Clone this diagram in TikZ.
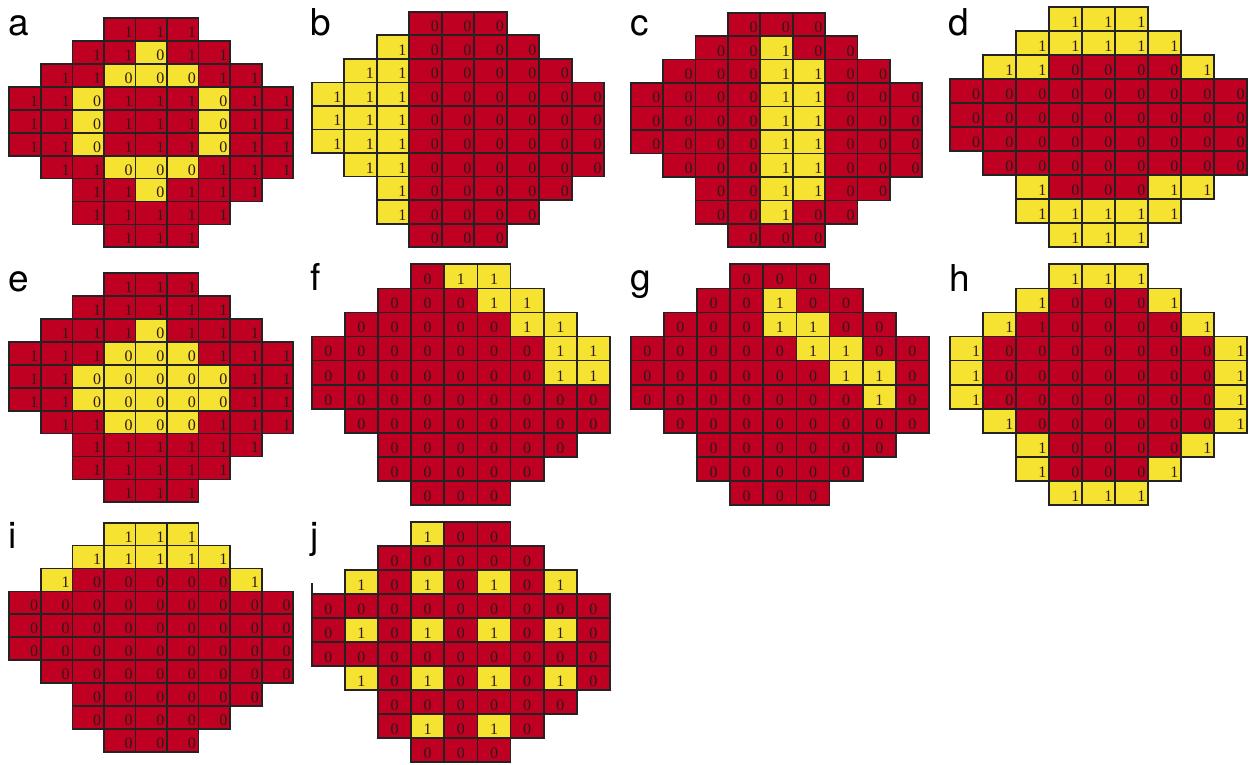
\documentclass[tikz,border=0pt]{standalone}
\usepackage{fontspec}
\setmainfont{Liberation Serif}
\newfontfamily\labfont{TeX Gyre Heros}
\definecolor{cellred}{RGB}{192,0,34}
\definecolor{cellyel}{RGB}{246,226,48}
\definecolor{gridline}{RGB}{38,34,34}
\definecolor{digitcol}{RGB}{45,25,25}
\tikzset{
  cellbox/.style={inner sep=0pt, outer sep=0pt, anchor=north west, rectangle},
  celledge/.style={draw=gridline, line width=1.7pt},
  digitnode/.style={inner sep=0pt, outer sep=0pt, font=\fontsize{16}{16}\selectfont, text=digitcol},
  panellabel/.style={inner sep=0pt, outer sep=0pt, anchor=base west, font=\labfont\fontsize{37}{37}\selectfont},
}
\newcommand\drawpanel[7]{%
  \pgfmathsetmacro\cw{(#4-#2)/9}%
  \pgfmathsetmacro\chh{(#5-#3)/10}%
  \foreach \row [count=\r from 0] in {#7} {%
    \ifcase\r \def\st{3}\or\def\st{2}\or\def\st{1}\or\def\st{0}\or\def\st{0}\or\def\st{0}\or\def\st{1}\or\def\st{2}\or\def\st{2}\or\def\st{3}\fi
    \foreach \v [count=\k from 0] in \row {%
      \pgfmathsetmacro\xx{#2+(\st+\k)*\cw}%
      \pgfmathsetmacro\yy{#3+\r*\chh}%
      \pgfmathtruncatemacro\val{mod(\v,2)}%
      \ifnum\v>1 \def\fc{cellyel}\else\def\fc{cellred}\fi
      \node[cellbox, fill=\fc, minimum width=\cw pt, minimum height=\chh pt] (#1-\r-\k) at (\xx,\yy) {};
      \ifnum#6=0
        \node[digitnode, anchor=base east] (#1-\r-\k-d) at (\xx+\cw-2.8,\yy+\chh-3.6) {\val};
      \else
        \node[digitnode, anchor=base] (#1-\r-\k-d) at (\xx+\cw/2,\yy+\chh-3.6) {\val};
      \fi
    }%
  }%
  \foreach \r/\n in {0/2,1/4,2/6,3/8,4/8,5/8,6/7,7/5,8/4,9/2} {%
    \foreach \k in {0,...,\n} {%
      \draw[celledge] (#1-\r-\k.north west) rectangle (#1-\r-\k.south east);
    }%
  }%
}
\begin{document}
\begin{tikzpicture}[x=1pt,y=-1pt]
\fill[white] (0,0) rectangle (1258,764);
\useasboundingbox (0,0) rectangle (1258,764);
% a
\drawpanel{a}{9.3}{18.3}{293.3}{247.3}{0}{{1,1,1},{1,1,2,1,1},{1,1,2,2,2,1,1},{1,1,2,1,1,1,2,1,1},{1,1,2,1,1,1,2,1,1},{1,1,2,1,1,1,2,1,1},{1,1,2,2,2,1,1,1},{1,1,2,1,1,1},{1,1,1,1,1},{1,1,1}}
% b
\drawpanel{b}{311.7}{11.7}{604.3}{247.3}{0}{{0,0,0},{3,0,0,0,0},{3,3,0,0,0,0,0},{3,3,3,0,0,0,0,0,0},{3,3,3,0,0,0,0,0,0},{3,3,3,0,0,0,0,0,0},{3,3,0,0,0,0,0,0},{3,0,0,0,0,0},{3,0,0,0,0},{0,0,0}}
% c
\drawpanel{c}{630.7}{12.7}{922.3}{247.3}{0}{{0,0,0},{0,0,3,0,0},{0,0,0,3,3,0,0},{0,0,0,0,3,3,0,0,0},{0,0,0,0,3,3,0,0,0},{0,0,0,0,3,3,0,0,0},{0,0,0,3,3,0,0,0},{0,0,3,3,0,0},{0,0,3,0,0},{0,0,0}}
% d
\drawpanel{d}{950}{6.7}{1247.3}{247.3}{0}{{3,3,3},{3,3,3,3,3},{3,3,0,0,0,0,3},{0,0,0,0,0,0,0,0,0},{0,0,0,0,0,0,0,0,0},{0,0,0,0,0,0,0,0,0},{0,0,0,0,0,0,0,0},{3,0,0,0,3,3},{3,3,3,3,3},{3,3,3}}
% e
\drawpanel{e}{9.3}{273.3}{293.3}{502.3}{0}{{1,1,1},{1,1,1,1,1},{1,1,1,2,1,1,1},{1,1,1,2,2,2,1,1,1},{1,1,2,2,2,2,2,1,1},{1,1,2,2,2,2,2,1,1},{1,1,2,2,2,1,1,1},{1,1,1,1,1,1},{1,1,1,1,1},{1,1,1}}
% f
\drawpanel{f}{311.7}{264.3}{610}{505}{1}{{0,3,3},{0,0,0,3,3},{0,0,0,0,0,3,3},{0,0,0,0,0,0,0,3,3},{0,0,0,0,0,0,0,3,3},{0,0,0,0,0,0,0,0,0},{0,0,0,0,0,0,0,0},{0,0,0,0,0,0},{0,0,0,0,0},{0,0,0}}
% g
\drawpanel{g}{630.7}{264.3}{929}{505}{1}{{0,0,0},{0,0,3,0,0},{0,0,0,3,3,0,0},{0,0,0,0,0,3,3,0,0},{0,0,0,0,0,0,3,3,0},{0,0,0,0,0,0,0,3,0},{0,0,0,0,0,0,0,0},{0,0,0,0,0,0},{0,0,0,0,0},{0,0,0}}
% h
\drawpanel{h}{950}{264.3}{1247.3}{505}{0}{{3,3,3},{3,0,0,0,3},{3,1,0,0,0,0,3},{3,0,0,0,0,0,0,0,3},{3,0,0,0,0,0,0,0,3},{3,0,0,0,0,0,0,0,3},{3,0,0,0,0,0,0,3},{3,0,0,0,0,3},{3,0,0,0,3},{3,3,3}}
% i
\drawpanel{i}{9.3}{522.7}{293.3}{751.7}{0}{{3,3,3},{3,3,3,3,3},{3,0,0,0,0,0,3},{0,0,0,0,0,0,0,0,0},{0,0,0,0,0,0,0,0,0},{0,0,0,0,0,0,0,0,0},{0,0,0,0,0,0,0,0},{0,0,0,0,0,0},{0,0,0,0,0},{0,0,0}}
% j
\drawpanel{j}{311.7}{521.7}{610}{761.7}{1}{{3,0,0},{0,0,0,0,0},{3,0,3,0,3,0,3},{0,0,0,0,0,0,0,0,0},{0,3,0,3,0,3,0,3,0},{0,0,0,0,0,0,0,0,0},{3,0,3,0,3,0,3,0},{0,0,0,0,0,0},{0,3,0,3,0},{0,0,0}}
\coordinate (jmarktop) at (311.7,583);
\coordinate (jmarkbot) at (311.7,657);
\draw[gridline, line width=1.7pt] (jmarktop) -- (jmarkbot);
% labels
\node[panellabel] (la) at (8.5,35) {a};
\node[panellabel] (lb) at (310.5,35) {b};
\node[panellabel] (lc) at (630.5,35) {c};
\node[panellabel] (ld) at (948.5,35) {d};
\node[panellabel] (le) at (8.5,291) {e};
\node[panellabel] (lf) at (310.5,290) {f};
\node[panellabel] (lg) at (630.5,290) {g};
\node[panellabel] (lh) at (949.5,291) {h};
\node[panellabel] (li) at (8.5,548) {i};
\node[panellabel] (lj) at (310.5,548) {j};
\end{tikzpicture}
\end{document}
